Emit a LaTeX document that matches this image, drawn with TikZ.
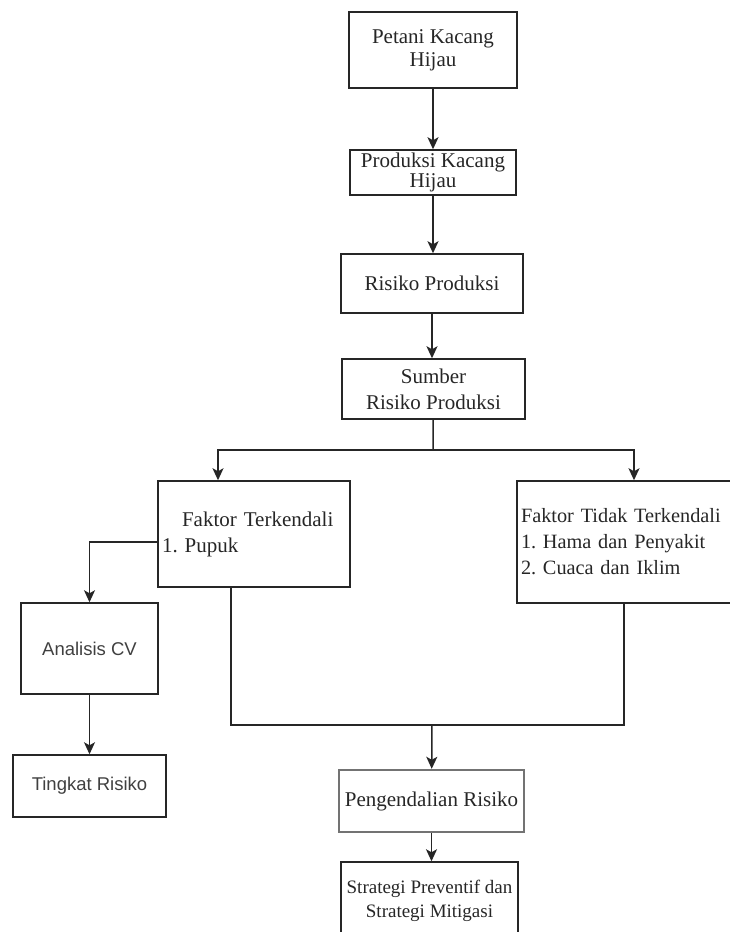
\documentclass[tikz,border=0pt]{standalone}
\usepackage{fontspec}
\setmainfont{Liberation Serif}
\newfontfamily\arialfont{Liberation Sans}
\usetikzlibrary{arrows.meta}
\frenchspacing

\begin{document}
\begin{tikzpicture}[x=1pt,y=-1pt,
		box/.style={draw=black!85, line width=1.5pt, inner sep=0pt, align=center, text=black!85, font=\fontsize{21}{23}\selectfont},
		sansbox/.style={box, text=black!75, font=\arialfont\fontsize{18.5}{22}\selectfont},
		arr/.style={draw=black!85, line width=1.5pt, -{Stealth[length=12pt,width=11pt,inset=3pt]}},
		ln/.style={draw=black!85, line width=1.5pt}]
		\useasboundingbox (0,0) rectangle (729,932);
		\node[box, minimum width=168, minimum height=76] (petani) at (433,50) {Petani Kacang\\Hijau};
		\node[box, minimum width=166, minimum height=45, font=\fontsize{21}{20}\selectfont] (produksi) at (433,172.5) {Produksi Kacang\\Hijau};
		\node[box, minimum width=182, minimum height=59] (risiko) at (432,283.5) {Risiko Produksi};
		\node[box, minimum width=183, minimum height=60, font=\fontsize{21}{26}\selectfont] (sumber) at (433.5,389) {Sumber\\Risiko Produksi};
		\node[box, minimum width=192, minimum height=106, text width=184, align=left, font=\fontsize{21}{26}\selectfont] (terkendali) at (254,534) {\hspace*{20pt}Faktor Terkendali\\1. Pupuk};
		\node[box, minimum width=236, minimum height=122, text width=228, align=left, font=\fontsize{20.3}{26}\selectfont] (tidakterkendali) at (635,542) {Faktor Tidak Terkendali\\1. Hama dan Penyakit\\2. Cuaca dan Iklim};
		\node[sansbox, minimum width=137, minimum height=91] (analisis) at (89.5,648.5) {Analisis CV};
		\node[sansbox, minimum width=153, minimum height=62] (tingkat) at (89.5,786) {Tingkat Risiko};
		\node[box, draw=black!55, line width=2.4pt, minimum width=185, minimum height=62] (pengendalian) at (431.5,801) {Pengendalian Risiko};
		\node[box, minimum width=177, minimum height=78, font=\fontsize{19}{24}\selectfont] (strategi) at (429.5,901) {Strategi Preventif dan\\Strategi Mitigasi};
		\coordinate (split) at (433,450);
		\coordinate (join) at (432,725);
		\draw[arr] (petani) -- (produksi);
		\draw[arr] (produksi.south) -- (produksi.south |- risiko.north);
		\draw[arr] (risiko.south) -- (risiko.south |- sumber.north);
		\draw[ln] (sumber) -- (split);
		\draw[arr] (split) -| ([xshift=-36]terkendali.north);
		\draw[arr] (split) -| ([xshift=-1]tidakterkendali.north);
		\draw[arr] ([yshift=-8]terkendali.west) -| (analisis.north);
		\draw[arr] (analisis) -- (tingkat);
		\draw[ln] ([xshift=-23]terkendali.south) |- (join) -| ([xshift=-11]tidakterkendali.south);
		\draw[arr] (join) -- (pengendalian);
		\draw[arr] (pengendalian.south) -- (pengendalian.south |- strategi.north);
	\end{tikzpicture}
\end{document}
